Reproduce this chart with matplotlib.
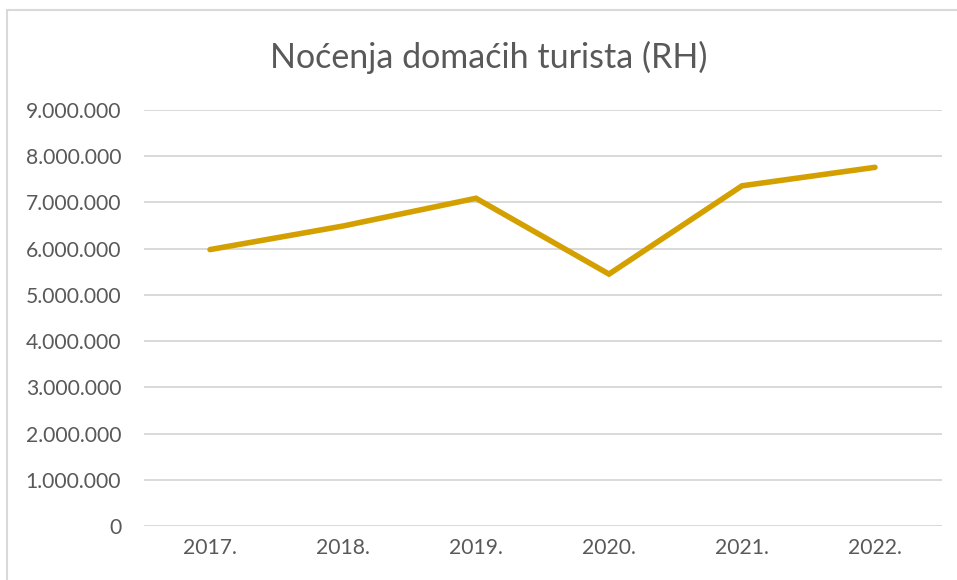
import matplotlib
matplotlib.use("Agg")
import matplotlib.pyplot as plt
from matplotlib.patches import Rectangle
from matplotlib.ticker import FuncFormatter

years = ["2017.", "2018.", "2019.", "2020.", "2021.", "2022."]
nights = [5980000, 6490000, 7090000, 5450000, 7360000, 7760000]
y_ticks = [0, 1000000, 2000000, 3000000, 4000000, 5000000,
           6000000, 7000000, 8000000, 9000000]

plt.rcParams['font.family'] = ['Lato', 'DejaVu Sans']

fig = plt.figure(figsize=(9.57, 5.8), dpi=100)
ax = fig.add_axes([143.5 / 957, 1 - 526 / 580, 798 / 957, 416 / 580])

x = list(range(len(years)))
ax.plot(x, nights, color='#D4A000', linewidth=4,
        solid_capstyle='round', solid_joinstyle='miter', zorder=3)

ax.set_xlim(-0.5, len(years) - 0.5)
ax.set_ylim(0, 9000000)
ax.set_xticks(x)
ax.set_xticklabels(years)
ax.set_yticks(y_ticks)
ax.yaxis.set_major_formatter(FuncFormatter(lambda v, p: f"{int(v):,}".replace(",", ".")))

ax.grid(axis='y', color='#D9D9D9', linewidth=1.4)
ax.set_axisbelow(True)
for s in ax.spines.values():
    s.set_visible(False)
ax.tick_params(axis='both', length=0, colors='#595959', labelsize=15.2)
ax.tick_params(axis='y', pad=16)
ax.tick_params(axis='x', pad=9)

fig.text(0.511, 1 - 57 / 580, "Noćenja domaćih turista (RH)", ha='center', va='center',
         fontsize=24.5, color='#595959')

# chart frame
fig.patches.append(Rectangle((7 / 957, -0.05), 1.2, 1 - 10 / 580 + 0.05,
                             transform=fig.transFigure, fill=False,
                             edgecolor='#D9D9D9', linewidth=1.5))

fig.savefig("out.png", dpi=100)
